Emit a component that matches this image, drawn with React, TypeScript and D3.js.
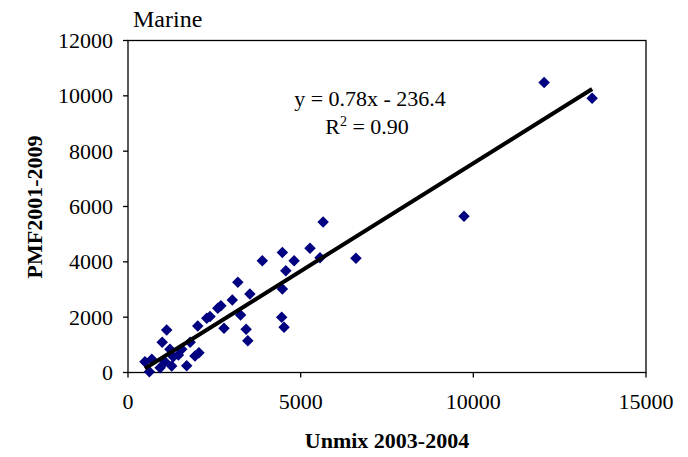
import React from "react";
import * as d3 from "d3";

const title = "Marine";
const xTitle = "Unmix 2003-2004";
const yTitle = "PMF2001-2009";
const xTicks = [0, 5000, 10000, 15000];
const yTicks = [0, 2000, 4000, 6000, 8000, 10000, 12000];
const slope = 0.78;
const intercept = -236.4;
const eqLine = "y = 0.78x - 236.4";
const r2Value = "0.90";

const unmix = [
  12050, 13440, 9730, 5650, 5270, 6600, 5560, 4470, 4810, 3890, 4570, 4470, 4450, 4520,
  3180, 3530, 3020, 2690, 2600, 2375, 2280, 3260, 2780, 3420, 3470, 2020, 1120, 990,
  1800, 1555, 1215, 2055, 1940, 1460, 1310, 1700, 1265, 930, 490, 690, 620, 1070,
];
const pmf = [
  10480, 9910, 5650, 5440, 4490, 4130, 4150, 4340, 4040, 4040, 3680, 3020, 1995, 1635,
  3260, 2840, 2620, 2410, 2320, 2020, 1960, 2080, 1600, 1560, 1150, 1680, 1540, 1090,
  1090, 840, 840, 715, 595, 630, 570, 245, 235, 175, 390, 480, 30, 390,
];

const W = 688;
const H = 457;
const left = 128;
const right = 646;
const top = 40.5;
const bottom = 372.5;
const serif = "'Liberation Serif', 'Times New Roman', serif";

export default function App() {
  const x = d3.scaleLinear().domain([0, 15000]).range([left, right]);
  const y = d3.scaleLinear().domain([0, 12000]).range([bottom, top]);
  const pts = unmix.map((u, i) => [u, pmf[i]] as [number, number]);
  const [xmin, xmax] = d3.extent(unmix) as [number, number];
  const line = d3.line<number>()
    .x((v) => x(v))
    .y((v) => y(slope * v + intercept));
  const diamond = d3.symbol().type(d3.symbolDiamond2).size(84)();
  return (
    <svg width={W} height={H} style={{ position: "absolute", left: 0, top: 0, background: "#fff" }}>
      <rect x={left} y={top} width={right - left} height={bottom - top} fill="none" stroke="#000" strokeWidth={1.3} />
      {yTicks.map((t) => (
        <g key={"y" + t}>
          <line x1={left - 5} x2={left} y1={y(t)} y2={y(t)} stroke="#000" strokeWidth={1.3} />
          <text x={left - 15} y={y(t) + 7.5} textAnchor="end" fontFamily={serif} fontSize={22}>{t}</text>
        </g>
      ))}
      {xTicks.map((t) => (
        <g key={"x" + t}>
          <line x1={x(t)} x2={x(t)} y1={bottom} y2={bottom + 5} stroke="#000" strokeWidth={1.3} />
          <text x={x(t)} y={bottom + 36} textAnchor="middle" fontFamily={serif} fontSize={22}>{t}</text>
        </g>
      ))}
      {pts.map(([u, p], i) => (
        <path key={i} d={diamond as string} transform={`translate(${x(u)},${y(p)})`} fill="#000080" />
      ))}
      <path d={line([xmin, xmax]) as string} stroke="#000" strokeWidth={4} fill="none" />
      <text x={370} y={106} textAnchor="middle" fontFamily={serif} fontSize={22}>{eqLine}</text>
      <text x={367} y={134} textAnchor="middle" fontFamily={serif} fontSize={22}>
        R<tspan dy={-8} fontSize={14}>2</tspan><tspan dy={8}> = {r2Value}</tspan>
      </text>
      <text x={133} y={27} fontFamily={serif} fontSize={24}>{title}</text>
      <text x={387} y={448} textAnchor="middle" fontFamily={serif} fontSize={22} fontWeight="bold">{xTitle}</text>
      <text transform={`translate(42,207) rotate(-90)`} textAnchor="middle" fontFamily={serif} fontSize={22} fontWeight="bold">{yTitle}</text>
    </svg>
  );
}
